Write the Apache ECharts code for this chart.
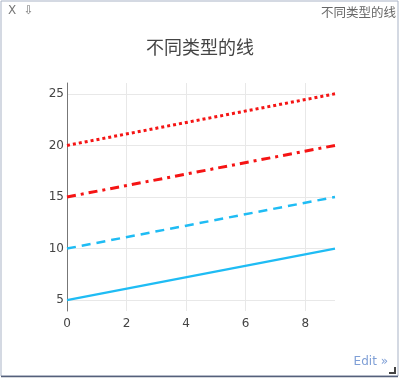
<!DOCTYPE html>
<html>
<head>
<meta charset="utf-8">
<script src="https://cdn.jsdelivr.net/npm/echarts@6/dist/echarts.min.js"></script>
<style>
  html, body { margin: 0; padding: 0; background: #fff; }
  #chart { width: 400px; height: 378px; }
</style>
</head>
<body>
<div id="chart"></div>
<script>
// dữ liệu của các đường (điểm đầu và điểm cuối)
var xs = [0, 9];
var line_solid = [5, 10];
var line_dash = [10, 15];
var line_dashdot = [15, 20];
var line_dot = [20, 25];
var x_ticks = [0, 2, 4, 6, 8];
var y_ticks = [5, 10, 15, 20, 25];
var title_text = '不同类型的线';

function pairs(ys) {
    return xs.map(function (x, i) { return [x, ys[i]]; });
}

var chart = echarts.init(document.getElementById('chart'));

var tickFont = {
    color: '#444',
    fontSize: 12,
    fontFamily: 'DejaVu Sans'
};

var option = {
    animation: false,
    title: {
        text: title_text,
        left: 'center',
        top: 33,
        textStyle: {
            color: '#444',
            fontSize: 18,
            fontWeight: 'normal',
            fontFamily: 'Noto Sans CJK SC'
        }
    },
    grid: {
        left: 67,
        right: 65,
        top: 83,
        bottom: 67
    },
    xAxis: {
        type: 'value',
        min: 0,
        max: 9,
        axisLine: { show: false },
        axisTick: { show: false, customValues: x_ticks },
        axisLabel: Object.assign({ customValues: x_ticks, margin: 7 }, tickFont),
        splitLine: { show: true, lineStyle: { color: '#e8e8e8', width: 1 } }
    },
    yAxis: {
        type: 'value',
        min: 3.95,
        max: 26.05,
        axisLine: { show: true, onZero: false, lineStyle: { color: '#777', width: 1 } },
        axisTick: { show: false, customValues: y_ticks },
        axisLabel: Object.assign({ customValues: y_ticks, margin: 3 }, tickFont),
        splitLine: { show: true, lineStyle: { color: '#e8e8e8', width: 1 } }
    },
    series: [
        {
            name: 'solid',
            type: 'line',
            data: pairs(line_solid),
            showSymbol: false,
            lineStyle: { color: '#1fbcf4', width: 2.2 }
        },
        {
            name: 'dash',
            type: 'line',
            data: pairs(line_dash),
            showSymbol: false,
            lineStyle: { color: '#1fbcf4', width: 2.5, type: [9, 6] }
        },
        {
            name: 'dashdot',
            type: 'line',
            data: pairs(line_dashdot),
            showSymbol: false,
            lineStyle: { color: '#f51414', width: 3, type: [9, 5, 3, 5] }
        },
        {
            name: 'dot',
            type: 'line',
            data: pairs(line_dot),
            showSymbol: false,
            lineStyle: { color: '#f51414', width: 3, type: [3, 3] }
        }
    ],
    graphic: [
        // khung viền
        {
            type: 'rect',
            shape: { x: 1, y: 1, width: 397, height: 375 },
            style: { fill: 'none', stroke: '#a9b3c6', lineWidth: 1 },
            silent: true
        },
        {
            type: 'line',
            shape: { x1: 1, y1: 376.5, x2: 398, y2: 376.5 },
            style: { stroke: '#55607a', lineWidth: 1.5 },
            silent: true
        },
        {
            type: 'text',
            left: 8,
            top: 5,
            style: { text: 'X  ⇩', fill: '#777', font: '12px "DejaVu Sans"' }
        },
        {
            type: 'text',
            right: 4,
            top: 6,
            style: { text: title_text, fill: '#666', font: '12.5px "Noto Sans CJK SC"' }
        },
        {
            type: 'text',
            right: 12,
            top: 356,
            style: { text: 'Edit »', fill: '#7f9fd6', font: '12px "DejaVu Sans"' }
        },
        {
            type: 'polyline',
            shape: { points: [[395, 367], [395, 373], [389, 373]] },
            style: { stroke: '#444', lineWidth: 2, fill: 'none' },
            silent: true
        }
    ]
};

chart.setOption(option);
</script>
</body>
</html>
